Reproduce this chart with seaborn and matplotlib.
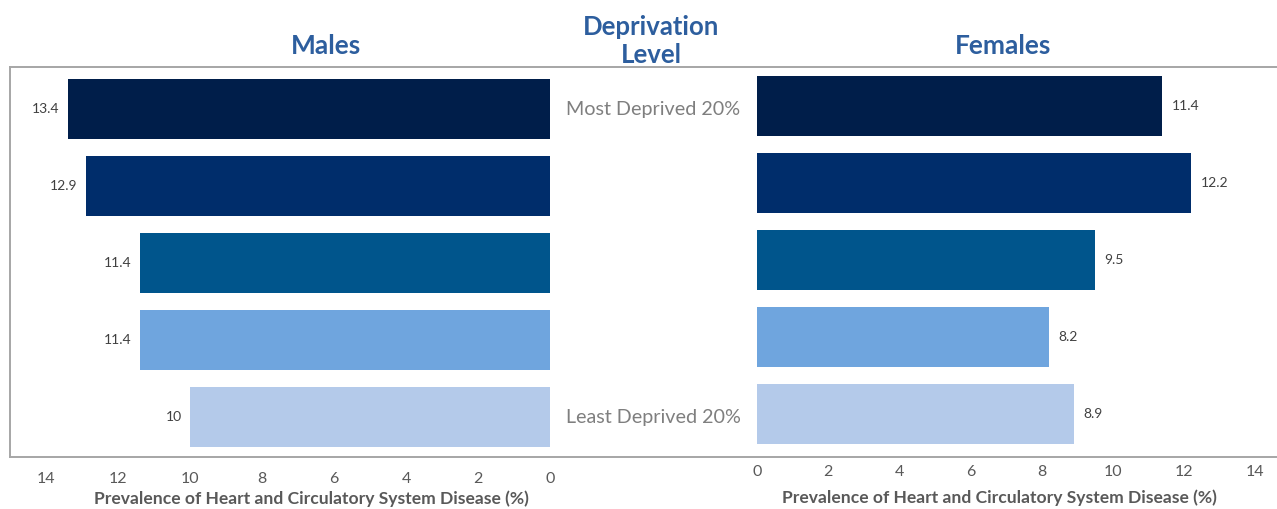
import matplotlib.pyplot as plt
import seaborn as sns

levels = ["Most Deprived 20%", "Q2", "Q3", "Q4", "Least Deprived 20%"]
males = [13.4, 12.9, 11.4, 11.4, 10]
females = [11.4, 12.2, 9.5, 8.2, 8.9]
bar_colors = ["#001E4A", "#002D6B", "#00558C", "#6FA5DE", "#B4CAEA"]
x_ticks = [0, 2, 4, 6, 8, 10, 12, 14]

sns.set_theme(style="white")
plt.rcParams["font.family"] = ["Lato", "DejaVu Sans"]

title_color = "#2D5E9E"
grey_text = "#595959"
frame_color = "#A6A6A6"

W, H = 1277, 509
fig = plt.figure(figsize=(W / 100, H / 100), dpi=100)


def px_box(x0, y_top, x1, y_bottom):
    return [x0 / W, 1 - y_bottom / H, (x1 - x0) / W, (y_bottom - y_top) / H]


# background frame: left, top and bottom rules spanning both panels
frame = fig.add_axes(px_box(10, 67, 1285, 457))
frame.set_xticks([])
frame.set_yticks([])
frame.patch.set_alpha(0)
for side, spine in frame.spines.items():
    spine.set_visible(side != "right")
    spine.set_color(frame_color)
    spine.set_linewidth(1.4)

ax_m = fig.add_axes(px_box(10, 67, 550, 457))
ax_f = fig.add_axes(px_box(757, 67, 1277, 457))

for ax, values in ((ax_m, males), (ax_f, females)):
    sns.barplot(x=values, y=levels, hue=levels, palette=bar_colors, orient="h",
                width=0.78, legend=False, saturation=1, linewidth=0, ax=ax)
    ax.patch.set_alpha(0)
    for spine in ax.spines.values():
        spine.set_visible(False)
    ax.set_yticks([])
    ax.set_ylabel("")
    ax.set_xticks(x_ticks)
    ax.tick_params(axis="x", length=0, labelsize=11.5, labelcolor=grey_text)
    ax.set_xlabel("Prevalence of Heart and Circulatory System Disease (%)",
                  fontsize=12.6, fontweight="bold", color=grey_text)

# males axis runs right-to-left, so labels sit left of the bar ends
for container in ax_m.containers:
    for label in ax_m.bar_label(container, fmt="{:g}", fontsize=10,
                                color="#404040", padding=-6):
        label.set_ha("right")
for container in ax_f.containers:
    ax_f.bar_label(container, fmt="{:g}", fontsize=10, color="#404040",
                   padding=7)

ax_m.set_xlim(15, 0)
ax_m.set_ylim(4.52, -0.545)
ax_m.tick_params(axis="x", pad=11)
ax_m.xaxis.set_label_coords(0.559, -0.087)

ax_f.set_xlim(0, 14.62)
ax_f.set_ylim(4.56, -0.506)
ax_f.tick_params(axis="x", pad=6)
ax_f.xaxis.set_label_coords(0.467, -0.082)

fig.text(326 / W, 1 - 46 / H, "Males", ha="center", va="center",
         fontsize=19, fontweight="bold", color=title_color)
fig.text(1003 / W, 1 - 46 / H, "Females", ha="center", va="center",
         fontsize=19, fontweight="bold", color=title_color)
fig.text(651 / W, 1 - 41 / H, "Deprivation\nLevel", ha="center", va="center",
         fontsize=18.5, fontweight="bold", color=title_color, linespacing=1.2)

fig.text(653 / W, 1 - 110 / H, levels[0], ha="center", va="center",
         fontsize=14.2, color="#7F7F7F")
fig.text(653 / W, 1 - 417 / H, levels[-1], ha="center", va="center",
         fontsize=14.2, color="#7F7F7F")

fig.savefig("out.png", dpi=100)
